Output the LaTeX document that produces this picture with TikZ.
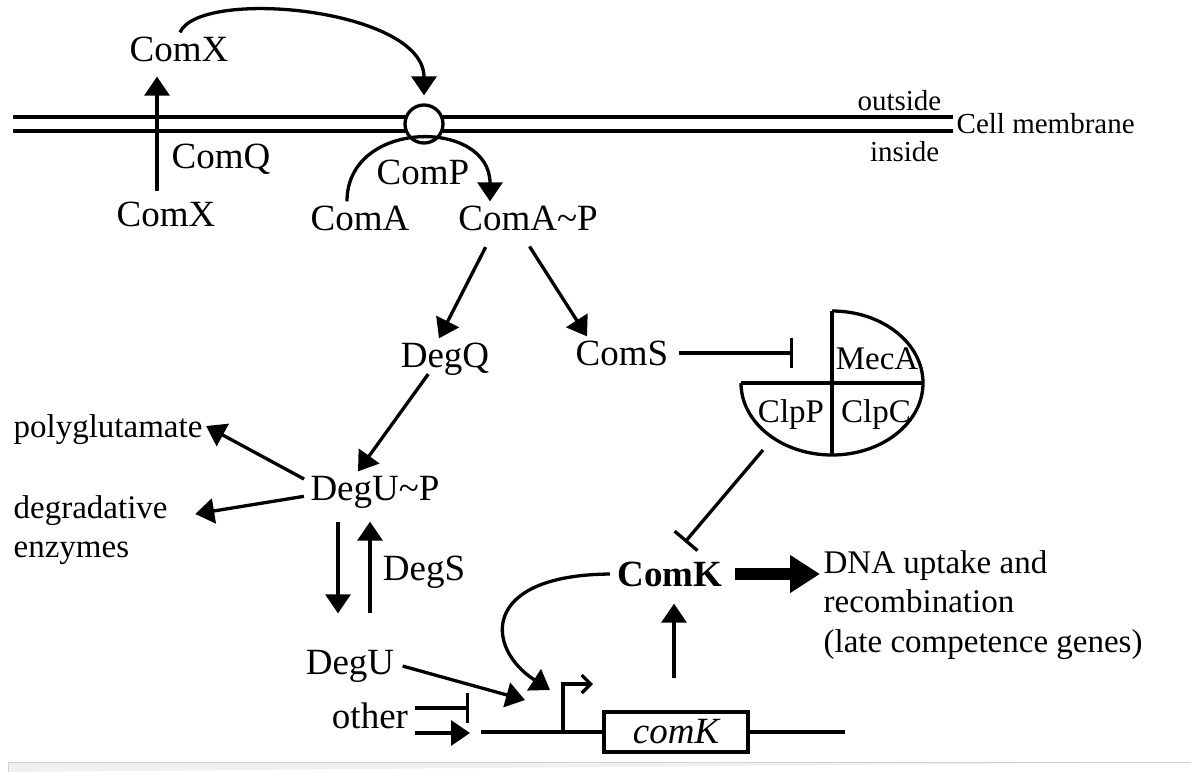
\documentclass[tikz,border=0pt]{standalone}
\usepackage{fontspec}
\setmainfont{Liberation Serif}
\usepackage{tikz}
\usetikzlibrary{arrows.meta}

\newcommand{\bigtxt}{\fontsize{37}{44}\selectfont}
\newcommand{\midtxt}{\fontsize{33}{39.5}\selectfont}
\newcommand{\smalltxt}{\fontsize{29}{34}\selectfont}

\begin{document}
\begin{tikzpicture}[x=1pt, y=-1pt, line width=3.3pt,
    lbl/.style={font=\bigtxt, inner sep=3pt, text height=24pt, text depth=0pt},
    sublbl/.style={font=\midtxt, inner sep=2pt, text height=22pt, text depth=0pt},
    act/.style={-{Triangle[length=19pt, width=25pt]}},
    inhib/.style={-{Bar[width=30pt]}}]
    \useasboundingbox (0,0) rectangle (1191,771);

    % Cell membrane
    \draw (13,117) -- (953,117);
    \draw (13,131) -- (953,131);
    \node[font=\smalltxt, inner sep=2pt, text height=19pt, text depth=0pt, anchor=west] (memb) at (953,124) {Cell membrane};
    \node[font=\smalltxt, inner sep=0pt, text height=19pt, text depth=0pt, anchor=east] (outs) at (943,101) {outside};
    \node[font=\smalltxt, inner sep=0pt, text height=19pt, text depth=0pt, anchor=east] (ins) at (941,152) {inside};
    \node[circle, draw, fill=white, minimum size=38pt, inner sep=0pt] (pore) at (424,124) {};

    % ComX / ComQ / ComP
    \node[lbl] (comxout) at (179,49) {ComX};
    \node[lbl] (comxin) at (166,214) {ComX};
    \node[lbl] (comq) at (221,156) {ComQ};
    \node[lbl] (comp) at (423,172) {ComP};
    \node[lbl] (coma) at (360,218) {ComA};
    \node[lbl] (comap) at (528,218) {ComA\textasciitilde P};

    \draw[act, shorten <=6pt, shorten >=11pt] ([xshift=-9pt]comxin.north) -- ([xshift=-22pt]comxout.south);
    \draw[act, shorten >=8pt] ([xshift=1pt]comxout.north) .. controls +(20,-45) and +(0,-95) .. (pore.north);
    \draw[act] ([xshift=-13pt]coma.north) .. controls +(0,-83) and +(0,-83) .. ([xshift=-38pt]comap.north);

    % DegQ / ComS
    \node[lbl] (degq) at (445,355) {DegQ};
    \node[lbl] (coms) at (622,353) {ComS};
    \draw[act, shorten <=14pt] ([xshift=-36pt]comap.south) -- ([xshift=-6pt]degq.north);
    \draw[act, shorten <=14pt] ([xshift=-6pt]comap.south) -- ([xshift=-35pt]coms.north);

    % MecA-ClpC-ClpP complex
    \draw (741,383) -- (923,383);
    \draw (832,311) -- (832,455);
    \draw (832,311) arc[start angle=-90, end angle=180, x radius=91, y radius=72];
    \node[sublbl] (meca) at (877,358) {MecA};
    \node[sublbl] (clpp) at (791,411) {ClpP};
    \node[sublbl] (clpc) at (876,411) {ClpC};
    \coordinate (mecabar) at (793,355);
    \coordinate (clppbot) at (763,450);
    \draw[inhib, shorten <=6pt] (coms.east) -- (coms.east -| mecabar);

    % DegU branch
    \node[lbl] (degup) at (375,488) {DegU\textasciitilde P};
    \node[font=\midtxt, inner sep=2pt, text height=22pt, text depth=0pt, anchor=west] (poly) at (10,426) {polyglutamate};
    \node[font=\midtxt, inner sep=2pt, anchor=west, align=left] (degr) at (10,530) {degradative\\enzymes};
    \node[lbl] (degs) at (424,568) {DegS};
    \node[lbl] (degu) at (350,662) {DegU};
    \draw[act, shorten <=3pt] ([xshift=-15pt]degq.south) -- ([xshift=-17pt]degup.north);
    \draw[act, shorten <=2pt] ([yshift=8pt]degup.west) -- (poly.east);
    \draw[act, shorten <=2pt] ([yshift=-8pt]degup.west) -- ([xshift=24pt,yshift=16pt]degr.east);
    \draw[act, shorten <=17pt, shorten >=32pt] ([xshift=-37pt]degup.south) -- ([xshift=-12pt]degu.north);
    \draw[act, shorten <=32pt, shorten >=17pt] ([xshift=20pt]degu.north) -- ([xshift=-5pt]degup.south);

    % comK gene and promoter
    \coordinate (dnal) at (481,732);
    \coordinate (dnar) at (845,732);
    \coordinate (prom) at (563,732);
    \coordinate (promtop) at (563,684);
    \coordinate (ktip) at (550,690);
    \coordinate (utip) at (525,700);
    \coordinate (othbar) at (469,708);
    \coordinate (othtip) at (470,733);
    \node[draw, minimum width=144pt, minimum height=40pt, inner sep=0pt, font=\bigtxt\itshape] (genek) at (676,732) {comK};
    \draw (dnal) -- (genek.west);
    \draw (genek.east) -- (dnar);
    \draw[-{Straight Barb[length=9pt, width=18pt]}] (prom) -- (promtop) -- ++(30,0);

    \node[lbl] (other) at (370,716) {other};
    \draw[inhib, shorten <=2pt] ([yshift=8pt]other.east) -- (othbar);
    \draw[act, shorten <=2pt] ([yshift=-17pt]other.east) -- (othtip);
    \draw[act, shorten <=4pt] ([yshift=-3pt]degu.east) -- (utip);

    % ComK
    \node[lbl, font=\bigtxt\bfseries] (comk) at (670,574) {ComK};
    \node[font=\midtxt, inner sep=2pt, anchor=west, align=left] (dna) at (820,605) {DNA uptake and\\recombination\\(late competence genes)};
    \draw[act, shorten <=3pt] (comk.west) .. controls (480,575) and (485,648) .. (ktip);
    \draw[act, shorten <=32pt, shorten >=13pt] ([xshift=-2pt]genek.north) -- ([xshift=4pt]comk.south);
    \draw[inhib, shorten >=20pt] (clppbot) -- ([xshift=2pt]comk.north);
    \draw[line width=12pt, -{Triangle[length=30pt, width=36pt]}, shorten <=8pt] (comk.east) -- (dna.west |- comk);

    % page edge
    \draw[gray!35, fill=gray!12, line width=1pt] (8,772) |- (1192,762);
\end{tikzpicture}
\end{document}
